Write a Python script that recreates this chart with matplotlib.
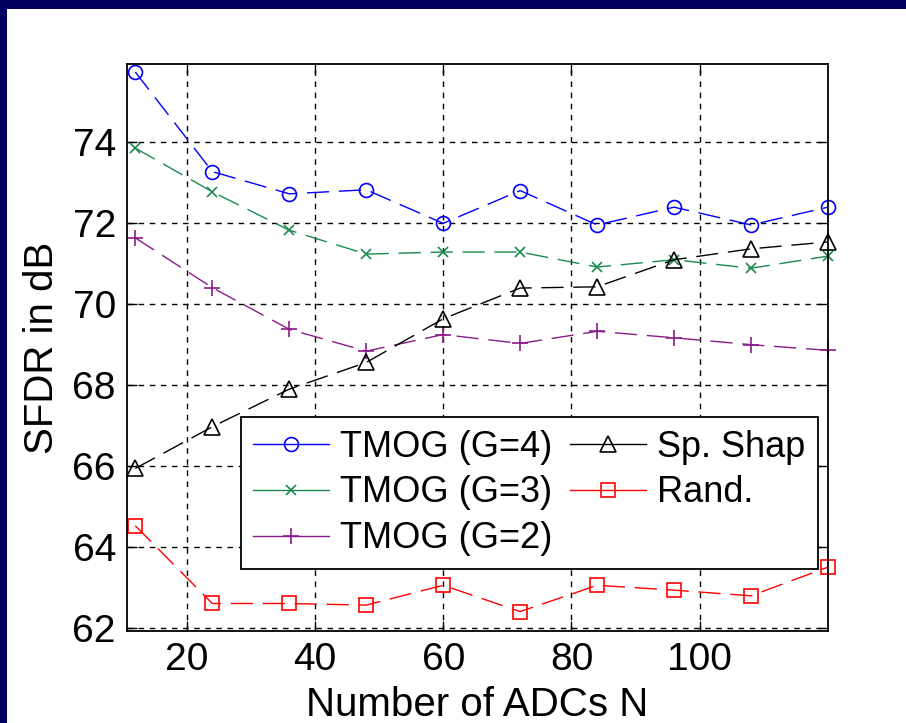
import matplotlib
matplotlib.use("Agg")
import matplotlib.pyplot as plt
from matplotlib.patches import Rectangle

plt.rcParams['font.family'] = ['Liberation Sans', 'DejaVu Sans']

# number of ADCs
n_adcs = [12, 24, 36, 48, 60, 72, 84, 96, 108, 120]

# SFDR values (dB)
tmog_g4 = [75.74, 73.28, 72.73, 72.83, 72.00, 72.81, 71.96, 72.40, 71.96, 72.40]
tmog_g3 = [73.86, 72.78, 71.83, 71.24, 71.29, 71.29, 70.92, 71.10, 70.89, 71.19]
tmog_g2 = [71.64, 70.41, 69.38, 68.84, 69.25, 69.03, 69.33, 69.17, 69.00, 68.86]
sp_shap = [65.94, 66.97, 67.90, 68.56, 69.64, 70.40, 70.43, 71.10, 71.37, 71.54]
rand_sel = [64.52, 62.60, 62.60, 62.56, 63.05, 62.40, 63.05, 62.93, 62.79, 63.50]

x_ticks = [20, 40, 60, 80, 100]
y_ticks = [62, 64, 66, 68, 70, 72, 74]

fig = plt.figure(figsize=(9.06, 7.23), dpi=100, facecolor='white')

# navy frame on top and left edges
fig.patches.append(Rectangle((0, 1 - 9 / 723), 1, 9 / 723, transform=fig.transFigure,
                             facecolor='#000060', linewidth=0, zorder=0))
fig.patches.append(Rectangle((0, 0), 7 / 906, 1, transform=fig.transFigure,
                             facecolor='#000060', linewidth=0, zorder=0))

ax = fig.add_axes([127 / 906, 92 / 723, 701 / 906, 567 / 723])

dash = (0, (16, 7))
kw = dict(linestyle=dash, linewidth=1.0, markerfacecolor='none', clip_on=False)

series = [
    (tmog_g4, '#0000ff', 'o', 10, 'TMOG (G=4)'),
    (tmog_g3, '#1a8a50', 'x', 7, 'TMOG (G=3)'),
    (tmog_g2, '#8b1a8b', '+', 11, 'TMOG (G=2)'),
    (sp_shap, '#000000', '^', 11, 'Sp. Shap'),
    (rand_sel, '#ff0000', 's', 10, 'Rand.'),
]
handles = []
for vals, col, mk, ms, lab in series:
    ax.plot(n_adcs, vals, color=col, marker=mk, markersize=ms, markeredgecolor=col,
            markeredgewidth=1.2, **kw)
    h, = ax.plot([], [], color=col, marker=mk, markersize=ms, markeredgecolor=col,
                 markerfacecolor='none', markeredgewidth=1.2, linewidth=1.0, label=lab)
    handles.append(h)

ax.set_xlim(10.7, 120)
ax.set_ylim(61.92, 75.94)
ax.set_xticks(x_ticks)
ax.set_yticks(y_ticks)
ax.grid(True, color='black', linestyle=(0, (4, 4)), linewidth=1.0)
ax.tick_params(direction='in', length=7, width=1, top=True, right=True,
               labelsize=28, pad=8)
for s in ax.spines.values():
    s.set_linewidth(1.3)

ax.set_xlabel('Number of ADCs N', fontsize=29, labelpad=6)
ax.set_ylabel('SFDR in dB', fontsize=29, labelpad=8)

leg = ax.legend(handles=handles, ncol=2, loc='upper right',
                bbox_to_anchor=(0.9857, 0.3774), borderaxespad=0,
                fontsize=26, fancybox=False, framealpha=1, edgecolor='black',
                handlelength=2.1, handletextpad=0.3, columnspacing=0.5,
                labelspacing=0.3, borderpad=0.35)
leg.get_frame().set_linewidth(1.3)

fig.savefig('out.png', dpi=100, facecolor='white')
